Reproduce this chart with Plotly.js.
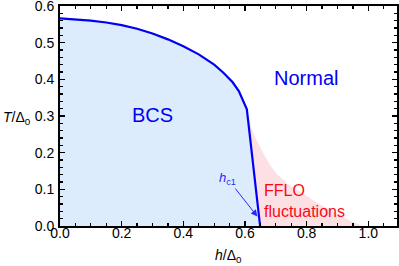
<!DOCTYPE html>
<html>
<head>
<meta charset="utf-8">
<script src="https://cdn.plot.ly/plotly-3.0.1.min.js"></script>
<style>html,body{margin:0;padding:0;background:#fff;}#chart{width:399px;height:266px;}</style>
</head>
<body>
<div id="chart"></div>
<script>
// BCS phase boundary (h/Δ0, T/Δ0)
const hBCS = [0, 0.05, 0.1, 0.15, 0.2, 0.25, 0.3, 0.35, 0.4, 0.45, 0.5, 0.53, 0.56, 0.58, 0.595, 0.606, 0.649];
const tBCS = [0.566, 0.564, 0.560, 0.555, 0.548, 0.538, 0.525, 0.509, 0.490, 0.468, 0.440, 0.418, 0.392, 0.368, 0.340, 0.318, 0];
// FFLO fluctuation region upper boundary
const hFFLO = [0.606, 0.615, 0.628, 0.645, 0.66, 0.68, 0.703, 0.74, 0.79, 0.84, 0.898, 0.94, 0.98];
const tFFLO = [0.318, 0.285, 0.251, 0.222, 0.197, 0.168, 0.142, 0.113, 0.088, 0.060, 0.033, 0.015, 0];
const xTicks = [0, 0.2, 0.4, 0.6, 0.8, 1.0];
const yTicks = [0, 0.1, 0.2, 0.3, 0.4, 0.5, 0.6];

const FONT = 'Liberation Sans, Arial, sans-serif';
const traces = [
  {x: hFFLO, y: tFFLO, type: 'scatter', mode: 'lines', fill: 'tozeroy',
   fillcolor: 'rgb(253,224,228)', line: {width: 0, color: 'rgba(0,0,0,0)'}, hoverinfo: 'skip'},
  {x: hBCS, y: tBCS, type: 'scatter', mode: 'lines', fill: 'tozeroy',
   fillcolor: 'rgb(220,236,253)', line: {width: 2.2, color: 'rgb(0,0,245)'}, hoverinfo: 'skip'}
];
const axisCommon = {
  showgrid: false, zeroline: false, showline: true, linecolor: '#000', linewidth: 2,
  mirror: 'allticks', ticks: 'inside', ticklen: 5, tickwidth: 1.5, tickcolor: '#000',
  tickformat: '.1f', tickfont: {family: FONT, size: 14, color: '#000'},
  automargin: false, ticklabeloverflow: 'allow'
};
const layout = {
  width: 399, height: 266,
  margin: {l: 60, r: 2, t: 6, b: 40},
  paper_bgcolor: '#fff', plot_bgcolor: '#fff',
  showlegend: false,
  font: {family: FONT, color: '#000'},
  xaxis: Object.assign({}, axisCommon, {range: [0, 1.093], tickvals: xTicks,
    minor: {dtick: 0.05, ticks: 'inside', ticklen: 3, tickwidth: 1.2, tickcolor: '#000'},
    ticklabelstandoff: -7}),
  yaxis: Object.assign({}, axisCommon, {range: [0, 0.6], tickvals: yTicks,
    minor: {dtick: 0.02, ticks: 'inside', ticklen: 3, tickwidth: 1.2, tickcolor: '#000'},
    ticklabelstandoff: 1}),
  annotations: [
    {x: 0.301, y: 0.302, xref: 'x', yref: 'y', text: 'BCS', showarrow: false,
     font: {family: FONT, size: 20, color: 'rgb(0,0,245)'}},
    {x: 0.797, y: 0.403, xref: 'x', yref: 'y', text: 'Normal', showarrow: false,
     font: {family: FONT, size: 20, color: 'rgb(0,0,245)'}},
    {x: 0.656, y: 0.098, xref: 'x', yref: 'y', xanchor: 'left', text: 'FFLO', showarrow: false,
     font: {family: FONT, size: 16, color: 'rgb(250,10,20)'}},
    {x: 0.656, y: 0.040, xref: 'x', yref: 'y', xanchor: 'left', text: 'fluctuations', showarrow: false,
     font: {family: FONT, size: 16, color: 'rgb(250,10,20)'}},
    {x: 0.640, y: 0.026, xref: 'x', yref: 'y', text: '<i>h</i><sub>c1</sub>',
     showarrow: true, ax: -30, ay: -38, arrowhead: 2, arrowsize: 1.3, arrowwidth: 1,
     arrowcolor: 'rgb(40,40,245)', standoff: 0,
     font: {family: FONT, size: 13, color: 'rgb(40,40,245)'}},
    {x: -0.175, y: 0.49, xref: 'paper', yref: 'paper', xanchor: 'left', yanchor: 'middle',
     text: '<i>T</i>/Δ<sub>0</sub>',
     showarrow: false, font: {family: FONT, size: 14, color: '#000'}},
    {x: 0.50, y: -0.135, xref: 'paper', yref: 'paper', xanchor: 'center', yanchor: 'middle',
     text: '<i>h</i>/Δ<sub>0</sub>',
     showarrow: false, font: {family: FONT, size: 14, color: '#000'}}
  ]
};
Plotly.newPlot('chart', traces, layout, {displayModeBar: false, staticPlot: true});
</script>
</body>
</html>
